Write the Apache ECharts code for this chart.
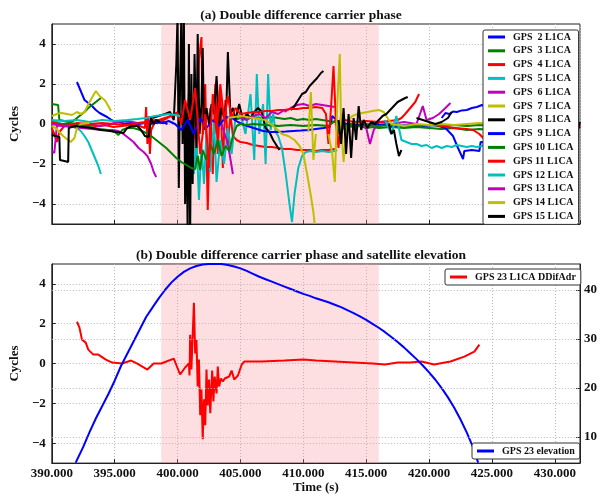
<!DOCTYPE html>
<html><head><meta charset="utf-8">
<script src="https://cdn.jsdelivr.net/npm/echarts@6/dist/echarts.min.js"></script>
<style>html,body{margin:0;padding:0;background:#fff}#c{width:602px;height:495px}</style>
</head><body><div id="c"></div>
<script>
// ---------- data ----------
const satNames = ['GPS  2 L1CA','GPS  3 L1CA','GPS  4 L1CA','GPS  5 L1CA','GPS  6 L1CA','GPS  7 L1CA','GPS  8 L1CA','GPS  9 L1CA','GPS 10 L1CA','GPS 11 L1CA','GPS 12 L1CA','GPS 13 L1CA','GPS 14 L1CA','GPS 15 L1CA'];
const xTicks = [390,395,400,405,410,415,420,425,430];
const cycleTicks = [-4,-2,0,2,4];
const elevTicks = [10,20,30,40];
const shadeRange = [398.7, 416.0];

const gps2 = [[392.0,2.1],[392.2,1.8],[392.4,1.5],[392.6,1.2],[392.9,1.05],[393.2,0.9],[393.5,0.7],[393.8,0.55],[394.1,0.45],[394.4,0.35],[394.7,0.22],[395.0,0.12],[395.4,0.08],[395.8,0.02],[396.3,0.05],[396.8,-0.02],[397.3,0.05],[397.8,0.0],[398.3,0.05],[398.8,0.1],[399.2,0.0],[400,null],[421.0,0.3],[421.3,0.55],[421.6,0.5],[421.9,0.62],[422.2,0.6],[422.6,0.68],[423.0,0.7],[423.4,0.8],[423.8,0.85],[424.2,0.95],[424.5,0.85],[425.0,0.8]];
const gps3 = [[390.0,1.0],[390.5,0.95],[390.6,0.2],[391.0,0.15],[391.4,0.1],[391.7,0.15],[392.0,0.3],[392.3,0.45],[392.6,0.6],[392.9,0.8],[393.2,0.95],[393.5,1.1],[393.9,1.3],[394,null],[404.5,0.2],[405.0,0.3],[405.5,0.25],[406.0,0.35],[406.5,0.3],[407.0,0.3],[407.5,0.35],[408.0,0.3],[408.5,0.25],[409.0,0.3],[409.5,0.2],[410.0,0.25],[410.5,0.2],[411.0,0.25],[411.5,0.2],[412.0,0.15],[412.5,0.1],[413.0,0.0],[413.5,-0.1],[414.0,-0.15],[414.5,-0.1],[415.0,-0.2],[415.5,-0.15],[416.0,-0.2],[417.0,-0.15],[418.0,-0.2],[419.0,-0.15],[420.0,-0.2],[421.0,-0.25],[422.0,-0.2],[423.0,-0.3],[424.0,-0.25],[425.0,-0.3],[426,null],[431.8,-0.1],[432.0,0.0]];
const gps4 = [[390.0,-0.2],[390.2,-0.5],[390.4,-0.9],[390.6,-0.4],[391.0,-0.1],[391.6,0.0],[392.2,-0.1],[392.8,-0.05],[393.5,-0.1],[394.2,-0.05],[394.9,-0.15],[395.6,-0.1],[396.3,-0.05],[397.0,-0.1],[397.4,-0.2],[397.5,0.85],[397.6,-1.0],[397.7,0.4],[397.8,-1.5],[397.9,-0.3],[398.2,0.1],[398.7,0.15],[399.2,0.3],[399.7,0.5],[400.1,0.6],[400.3,0.2],[400.5,0.8],[400.7,-0.5],[400.9,1.5],[401.1,-1.0],[401.3,0.5],[401.5,-2.0],[401.7,3.2],[401.9,4.35],[402.0,-0.5],[402.2,2.0],[402.4,-4.3],[402.6,0.8],[402.8,-2.5],[403.0,2.0],[403.2,-1.5],[403.4,1.7],[403.6,-2.2],[403.8,1.2],[404.0,-1.0],[404.2,0.5],[404.4,-0.6],[404.7,-0.8],[405.0,-0.9],[405.5,-0.95],[406.0,-1.05],[406.5,-1.1],[407.0,-1.15],[407.5,-1.15],[408.0,-1.2],[408.5,-1.25],[409.0,-1.25],[409.5,-1.3],[410.0,-1.3],[410.5,-1.3],[411.0,-1.35],[411.5,-1.3],[412.0,-1.3],[412.5,-1.25]];
const gps5 = [[390.0,0.15],[390.4,0.1],[390.8,0.0],[391.2,-0.05],[391.6,-0.1],[392.0,-0.2],[392.3,-0.35],[392.6,-0.6],[392.9,-0.9],[393.1,-1.2],[393.3,-1.5],[393.5,-1.8],[393.7,-2.1],[393.9,-2.5],[395,null],[400.5,0.3],[400.8,-1.5],[401.0,0.5],[401.3,-2.5],[401.5,-0.5],[401.7,-3.8],[401.9,-1.0],[402.1,-3.0],[402.3,-0.5],[402.6,-2.4],[402.9,0.2],[403.1,-2.9],[403.4,-0.8],[403.7,-2.0],[404.0,-0.2],[404.3,-1.5],[404.6,0.3],[405.0,0.5],[405.4,-0.5],[405.8,1.5],[406.1,-1.8],[406.3,2.5],[406.5,-0.5],[406.8,1.0],[407.0,-2.0],[407.2,2.5],[407.4,-0.3],[407.6,0.5],[407.8,-0.4],[408.0,-0.6],[408.3,-1.2],[408.6,-2.5],[408.9,-4.0],[409.1,-4.9],[409.3,-3.5],[409.6,-2.2],[409.9,-1.6],[410.2,-1.4],[410.6,-1.35],[411.0,-1.4],[411.5,-1.35],[412.0,-1.4],[412.5,-1.35],[412.7,-1.3]];
const gps6 = [[390.0,-1.35],[390.2,-1.45],[390.35,-1.4],[390.4,-0.1],[390.8,-0.05],[391.5,0.0],[392.3,-0.05],[393.0,0.0],[393.8,-0.1],[394.5,-0.05],[395.2,0.1],[396.0,0.15],[396.8,0.05],[397.5,0.1],[398.2,0.2],[398.8,0.1],[399,null],[403.5,0.0],[404.0,-1.0],[404.4,-2.5],[405,null],[408.5,0.6],[409.0,0.8],[409.5,0.95],[410.0,1.0],[410.5,0.9],[411.0,1.0],[411.5,0.95],[412.0,0.9],[412.5,0.85],[413,null],[414.5,0.1],[415.0,-0.2],[415.3,-1.0],[415.6,-0.3],[416.0,0.1],[417.0,0.0],[418.0,0.1],[419.0,0.0],[419.5,0.9],[419.8,0.2],[420.3,0.3],[420.8,0.5],[421.3,0.8],[421.7,1.05]];
const gps7 = [[390.0,0.4],[390.4,0.5],[390.8,0.55],[391.2,0.5],[391.6,0.45],[392.0,0.6],[392.3,0.5],[392.6,0.6],[393.0,1.1],[393.5,1.65],[393.8,1.4],[394.2,1.2],[394.5,0.9],[394.7,0.65]];
const gps8 = [[398.0,0.3],[398.5,0.4],[399.0,0.5],[399.4,0.6],[399.7,0.2],[399.9,3.0],[400.0,5.5],[400.1,-3.2],[400.2,2.0],[400.3,5.5],[400.4,-1.0],[400.5,5.5],[400.6,-4.0],[400.7,1.0],[400.8,-5.5],[400.9,4.0],[401.0,-5.5],[401.1,2.5],[401.2,-3.0],[401.35,3.5],[401.5,-1.2],[401.6,4.5],[401.75,-0.5],[401.9,1.0],[402.0,3.8],[402.1,-0.3],[402.3,0.8],[402.5,0.0],[402.7,1.0],[402.9,0.5],[403.1,2.4],[403.3,0.0],[403.5,0.8],[403.7,0.3],[403.9,1.2],[404.0,3.6],[404.2,0.5],[404.4,0.8],[404.6,0.2],[404.9,1.0],[405.2,0.2],[405.5,0.5],[405.8,0.3],[406.1,0.6],[406.4,0.8],[406.7,0.6],[407.0,-0.2],[407.3,-0.4],[407.6,-0.8],[407.9,-1.1],[408.1,-1.3],[408.5,null],[409.0,0.7],[409.3,0.9],[409.6,1.2],[409.9,1.5],[410.2,1.6],[410.5,1.9],[410.8,2.1],[411.1,2.3],[411.4,2.55],[411.6,2.65]];
const gps9 = [[398.3,0.1],[398.8,0.05],[399.3,0.15],[399.8,0.0],[400.3,-0.3],[400.8,0.2],[401.3,-0.5],[401.8,0.3],[402.3,-0.2],[402.8,0.2],[403.3,-0.1],[403.8,0.35],[404.3,0.3],[404.8,0.1],[405.3,-0.05],[405.8,-0.15],[406.3,-0.25],[406.8,-0.35],[407.4,-0.4],[408.0,-0.4],[408.6,-0.38],[409.2,-0.35],[409.8,-0.33],[410.4,-0.3],[411.0,-0.25],[411.6,-0.2],[412.1,-0.15],[412.3,0.4],[412.8,0.1],[413.5,0.0],[414.5,-0.05],[415.5,0.0],[416.5,-0.05],[417.5,-0.1],[418.5,-0.05],[419.5,-0.1],[420.5,-0.05],[421.3,-0.2],[421.9,-0.6],[422.3,-1.2],[422.7,-1.75],[422.8,-1.35],[423.4,-1.3],[424.0,-1.35],[424.1,-0.9],[425.0,-0.95]];
const gps10 = [[390.0,0.05],[390.8,0.0],[391.5,0.05],[392.3,-0.05],[393.0,-0.15],[393.8,-0.25],[394.5,-0.3],[395.0,-0.4],[395.3,-0.55],[395.6,-0.3],[396.0,-0.2],[396.5,-0.2],[397.0,-0.3],[397.5,-0.45],[397.9,-0.6],[398.3,-0.8],[398.7,-1.0],[399.1,-1.2],[399.5,-1.45],[399.9,-1.7],[400.3,-1.9],[400.7,-2.05],[401.1,-2.2],[401.4,-2.25],[401.6,-1.6],[401.8,-2.3],[402.0,-1.3],[402.3,-1.8],[402.6,-1.0],[402.9,-1.5],[403.2,-0.8],[403.5,-1.6],[403.8,-1.1],[404.1,-1.35],[404.4,-0.6],[404.7,-0.1],[405.0,0.0],[405.5,-0.05],[406.0,0.0],[407.0,-0.05],[408.0,-0.1],[409.0,-0.05],[410.0,-0.1],[411.0,-0.05],[412.0,-0.1],[412.6,0.2],[412.8,-0.5],[413.0,0.1],[413.3,-0.3],[413.6,0.0],[414.0,-0.1],[415.0,-0.05],[416.0,-0.1],[417.0,-0.05],[418.0,-0.1],[419.0,-0.1],[420.0,-0.05],[421.0,-0.1],[422.0,-0.05],[423.0,-0.1],[424.0,-0.05],[425.0,-0.1]];
const gps11 = [[390.0,0.1],[390.5,0.0],[391.0,-0.1],[391.5,-0.05],[392.0,0.05],[393.0,0.0],[394.0,0.05],[395.0,0.0],[396.0,-0.05],[397.0,0.05],[398.0,0.1],[398.5,0.2],[399.0,0.3],[399.5,0.4],[400.0,0.55],[400.3,0.0],[400.6,1.2],[401.0,0.2],[401.4,1.8],[401.8,-1.5],[402.2,0.5],[402.5,-2.2],[402.8,1.5],[403.1,-0.5],[403.4,2.0],[403.7,0.2],[404.0,1.4],[404.3,0.3],[404.6,0.8],[405.0,0.5],[405.5,0.55],[406.0,0.6],[406.5,0.6],[407.0,0.65],[407.5,0.65],[408.0,0.7],[408.5,0.7],[409.0,0.75],[409.5,0.75],[410.0,0.8],[410.5,0.8],[411.0,0.85],[411.5,0.8],[411.8,0.5],[412.0,-1.0],[412.2,0.8],[412.4,2.9],[412.6,0.0],[412.8,-1.2],[413.0,0.5],[413.3,0.2],[414.0,0.1],[415.0,0.15],[416.0,0.1],[416.8,0.15],[417.5,0.2],[417.8,0.3],[418.1,0.5],[418.5,0.8],[418.9,1.1],[419.2,1.5],[419.5,null],[420.0,0.0],[421.0,-0.1],[422.0,-0.2],[423.0,-0.25],[423.5,-0.3],[424.0,-0.5],[424.3,-0.7],[425.0,-0.6],[426,null],[431.8,0.2],[432.0,-0.2]];
const gps12 = [[390.0,0.2],[391.0,0.15],[392.0,0.2],[393.0,0.1],[394.0,0.2],[395.0,0.15],[396.0,0.2],[396.8,0.25],[397.5,0.3],[398.2,0.4],[398.8,0.45],[399.3,0.5],[399.8,0.45],[400.2,0.4],[401,null],[416.5,0.2],[417.0,-0.5],[417.4,0.4],[417.8,-0.8],[418.2,-0.9],[418.6,-1.0],[419.0,-1.0],[419.4,-1.1],[419.8,-1.05],[420.2,-1.2],[420.6,-1.1],[421.0,-1.2],[421.4,-1.1],[421.8,-1.15],[422.2,-1.05],[422.6,-1.1],[423.0,-1.15],[423.4,-1.1],[423.8,-1.15],[424.2,-1.1],[424.5,-1.0],[425.0,-1.0]];
const gps13 = [[390.0,0.0],[390.8,-0.1],[391.6,-0.15],[392.4,-0.2],[393.2,-0.25],[394.0,-0.3],[394.8,-0.3],[395.3,-0.35],[395.7,-0.5],[396.1,-0.7],[396.5,-0.9],[396.9,-1.2],[397.3,-1.4],[397.6,-1.6],[397.9,-2.0],[398.1,-2.4],[398.3,-2.65],[399,null],[405.0,0.3],[405.5,0.2],[406.0,0.4],[406.5,0.5],[407.0,0.3],[407.5,0.6],[408.0,0.5],[408.5,0.7]];
const gps14 = [[390.0,-0.1],[390.3,-0.2],[390.6,-0.4],[390.9,-0.6],[391.2,-0.75],[391.5,-0.9],[391.8,-0.7],[392.0,-0.2],[392.3,0.0],[393.0,0.05],[394,null],[404.0,0.3],[405.0,0.4],[406.0,0.3],[407.0,0.2],[407.8,-0.2],[408.3,-0.5],[408.8,-0.6],[409.3,-0.8],[409.7,-1.1],[410.0,-1.5],[410.3,-2.5],[410.6,-3.6],[410.8,-4.4],[410.9,-5.0],[411,null],[410.4,-0.4],[410.6,1.6],[410.8,-1.8],[411.0,-0.5],[411.5,null],[412.0,-0.5],[412.3,-1.5],[412.5,-2.9],[412.7,1.0],[412.9,3.5],[413.0,0.0],[413.2,-1.9],[413.4,-0.5],[413.6,0.2],[413.9,0.4],[414.3,0.5],[414.7,0.55],[415.1,0.6],[415.5,0.65],[416.0,0.7],[416.4,0.6],[417.0,0.0],[418.0,-0.1],[419.0,0.0],[420.0,-0.05],[421.0,0.0],[422.0,-0.05],[423.0,0.0],[424.0,0.05],[425.0,0.0]];
const gps15 = [[390.0,-0.55],[390.3,-0.6],[390.6,-0.65],[390.65,-1.8],[391.0,-1.85],[391.3,-1.9],[391.35,-0.2],[391.8,-0.1],[392.5,-0.15],[393.2,-0.2],[393.9,-0.3],[394.6,-0.35],[395.2,-0.4],[395.7,-0.45],[396.0,-0.2],[396.4,-0.1],[396.8,-0.1],[397.1,-0.3],[397.4,-0.6],[397.7,-0.65],[397.9,0.3],[398.1,0.0],[398.3,0.2],[398.6,0.1],[399,null],[412.8,0.2],[413.0,-1.0],[413.2,0.8],[413.4,-1.5],[413.6,0.5],[413.8,-1.7],[414.0,0.3],[414.2,-0.8],[414.4,0.9],[414.6,-0.3],[414.8,0.2],[415.1,-0.2],[415.4,0.1],[415.7,0.0],[416.0,0.2],[416.3,0.4],[416.6,0.5],[416.9,0.7],[417.2,0.9],[417.5,1.1],[417.8,1.2],[418.1,1.3],[418.3,1.35],[418.4,null],[416.8,0.0],[417.0,-0.5],[417.2,-0.3],[417.4,-1.0],[417.6,-1.6],[417.8,-1.3],[418,null],[419.0,0.3],[419.5,0.2],[420.0,0.1],[420.5,0.0],[421.0,0.1],[421.5,0.3],[421.8,0.6],[422,null],[431.8,-0.4],[432.0,0.1]];
const satData = [gps2,gps3,gps4,gps5,gps6,gps7,gps8,gps9,gps10,gps11,gps12,gps13,gps14,gps15];

const ddName = 'GPS 23 L1CA DDifAdr';
const elevName = 'GPS 23 elevation';
const gps23dd = [[392.0,2.1],[392.2,1.8],[392.4,1.2],[392.7,1.05],[392.9,0.7],[393.3,0.45],[393.7,0.45],[394.3,0.2],[394.8,0.05],[395.6,0.0],[396.3,0.15],[396.8,0.0],[397.6,-0.3],[398.1,0.0],[398.7,0.0],[399.7,0.25],[400.2,-0.55],[400.6,-0.2],[400.9,0.0],[400.95,-0.6],[401.0,1.45],[401.1,-0.3],[401.3,3.05],[401.4,0.5],[401.5,1.2],[401.6,-1.15],[401.7,0.2],[401.8,-2.6],[401.9,-1.3],[402.0,-3.8],[402.1,-1.8],[402.2,-3.1],[402.3,-0.3],[402.4,-2.1],[402.5,-0.8],[402.6,-2.5],[402.75,-0.35],[402.85,-1.9],[402.95,-0.65],[403.1,-1.5],[403.2,-0.15],[403.3,-1.15],[403.45,-0.75],[403.6,-0.9],[403.75,-0.75],[403.9,-0.65],[404.1,-0.65],[404.3,-0.35],[404.5,-0.8],[404.8,-0.6],[405.1,-0.05],[405.3,0.1],[406.7,0.1],[408.5,0.15],[410.0,0.2],[411.0,0.15],[412.5,0.1],[414.0,0.05],[415.5,0.0],[416.5,-0.05],[417.5,0.05],[418.5,0.05],[419.4,0.1],[420.4,-0.05],[421.7,0.1],[422.8,0.35],[423.6,0.6],[424.0,0.95]];
const gps23elev = [[391.9,4.8],[392.5,8.0],[393.0,11.0],[393.5,13.8],[394.0,16.3],[394.5,18.8],[395.0,21.5],[395.5,24.5],[396.0,27.0],[396.5,29.5],[397.0,32.0],[397.5,34.5],[398.0,36.4],[398.5,38.3],[399.0,40.0],[399.5,41.5],[400.0,42.7],[400.5,43.7],[401.0,44.4],[401.5,44.9],[402.0,45.2],[402.5,45.3],[403.0,45.3],[403.5,45.3],[404.0,45.1],[404.5,44.8],[405.0,44.4],[405.5,43.9],[406.0,43.3],[406.5,42.7],[407.0,42.2],[407.5,41.7],[408.0,41.2],[408.5,40.7],[409.0,40.2],[409.5,39.7],[410.0,39.2],[410.5,38.8],[411.0,38.3],[411.5,37.9],[412.0,37.5],[412.5,37.0],[413.0,36.5],[413.5,35.9],[414.0,35.3],[414.5,34.6],[415.0,33.9],[415.5,33.1],[416.0,32.3],[416.5,31.4],[417.0,30.4],[417.5,29.4],[418.0,28.3],[418.5,27.1],[419.0,25.9],[419.5,24.6],[420.0,23.2],[420.5,21.7],[421.0,20.0],[421.5,18.1],[422.0,16.0],[422.5,13.6],[423.0,10.9],[423.5,7.9],[423.9,4.8]];
const elevRange = [4.7, 45.3];

// ---------- styles ----------
const satColors = ['#0000ff','#008000','#ff0000','#00bfbf','#bf00bf','#bfbf00','#000000','#0000ff','#008000','#ff0000','#00bfbf','#bf00bf','#bfbf00','#000000'];
const FONT = 'Liberation Serif';
const minus = v => (v < 0 ? '\u2212' + Math.abs(v) : String(v));
const gridLine = {show:true, lineStyle:{color:'#b8b8b8', type:[1,2], width:1}};
const txt = {fontFamily:FONT, fontWeight:'bold', color:'#111'};

const chart = echarts.init(document.getElementById('c'), null, {renderer:'canvas'});

function xAx(gi, labels){
  return {type:'value', gridIndex:gi, min:390, max:432, interval:5,
    axisLine:{show:true, onZero:false, lineStyle:{color:'#222'}},
    axisTick:{show:true, inside:true, length:4, lineStyle:{color:'#222'}},
    splitLine:gridLine,
    axisLabel: labels ? Object.assign({show:true, fontSize:13, margin:4, showMaxLabel:false, formatter:v=>v.toFixed(3)}, txt) : {show:false},
    name: labels ? 'Time (s)' : '', nameLocation:'middle', nameGap:17,
    nameTextStyle:Object.assign({fontSize:13}, txt)};
}
function yAx(gi){
  return {type:'value', gridIndex:gi, min:-5, max:5, position:'left',
    axisLine:{show:true, onZero:false, lineStyle:{color:'#222'}},
    axisTick:{show:true, inside:true, length:4, customValues:cycleTicks, lineStyle:{color:'#222'}},
    splitLine:gridLine,
    axisLabel:Object.assign({fontSize:13, margin:6, customValues:cycleTicks, formatter:minus}, txt),
    name:'Cycles', nameLocation:'middle', nameRotate:90, nameGap:24,
    nameTextStyle:Object.assign({fontSize:13}, txt)};
}

const series = [];
series.push({type:'line', name:'shadeA', xAxisIndex:0, yAxisIndex:0, data:[], z:1, silent:true,
  markArea:{silent:true, itemStyle:{color:'rgba(250,150,160,0.3)'}, data:[[{xAxis:shadeRange[0]},{xAxis:shadeRange[1]}]]}});
series.push({type:'line', name:'shadeB', xAxisIndex:1, yAxisIndex:1, data:[], z:1, silent:true,
  markArea:{silent:true, itemStyle:{color:'rgba(250,150,160,0.3)'}, data:[[{xAxis:shadeRange[0]},{xAxis:shadeRange[1]}]]}});
satNames.forEach((n,i)=>{
  series.push({type:'line', name:n, xAxisIndex:0, yAxisIndex:0, data:satData[i], showSymbol:false, symbol:'none',
    connectNulls:false, clip:true, lineStyle:{width:2, color:satColors[i]}, itemStyle:{color:satColors[i]}});
});
series.push({type:'line', name:ddName, xAxisIndex:1, yAxisIndex:1, data:gps23dd, showSymbol:false, symbol:'none', clip:true,
  lineStyle:{width:2, color:'#ff0000'}, itemStyle:{color:'#ff0000'}});
series.push({type:'line', name:elevName, xAxisIndex:1, yAxisIndex:2, data:gps23elev, showSymbol:false, symbol:'none', clip:true,
  lineStyle:{width:2, color:'#0000ff'}, itemStyle:{color:'#0000ff'},
  markLine:{silent:true, symbol:'none', label:{show:false}, lineStyle:{color:'#b8b8b8', type:[1,2], width:1},
    data:elevTicks.map(v=>({yAxis:v}))}});

const legendBase = {orient:'vertical', icon:'rect', itemWidth:17, itemHeight:3, selectedMode:false,
  backgroundColor:'#fff', borderColor:'#333', borderWidth:1, borderRadius:2,
  textStyle:Object.assign({fontSize:10, lineHeight:12, padding:[0,0,0,3]}, txt)};

chart.setOption({
  animation:false,
  backgroundColor:'#fff',
  title:[
    {text:'(a) Double difference carrier phase', left:'center', top:4, textStyle:Object.assign({fontSize:13.5}, txt)},
    {text:'(b) Double difference carrier phase and satellite elevation', left:'center', top:244, textStyle:Object.assign({fontSize:13.5}, txt)}
  ],
  grid:[
    {left:49, right:22, top:24, height:200, show:true, borderColor:'#222', borderWidth:1, backgroundColor:'transparent'},
    {left:49, right:22, top:264, height:200, show:true, borderColor:'#222', borderWidth:1, backgroundColor:'transparent'}
  ],
  xAxis:[xAx(0,false), xAx(1,true)],
  yAxis:[yAx(0), yAx(1),
    {type:'value', gridIndex:1, position:'right', min:elevRange[0], max:elevRange[1],
      axisLine:{show:true, onZero:false, lineStyle:{color:'#222'}},
      axisTick:{show:true, inside:true, length:4, customValues:elevTicks, lineStyle:{color:'#222'}},
      splitLine:{show:false},
      axisLabel:Object.assign({fontSize:13, margin:4, customValues:elevTicks}, txt)}
  ],
  legend:[
    Object.assign({}, legendBase, {data:satNames, left:483, top:30, padding:[1,5,2,5], itemGap:1.8}),
    Object.assign({}, legendBase, {data:[ddName], left:445, top:269, padding:[2,5,2,5]}),
    Object.assign({}, legendBase, {data:[elevName], left:472, top:443, padding:[2,5,2,5]})
  ],
  series:series
});
</script></body></html>
